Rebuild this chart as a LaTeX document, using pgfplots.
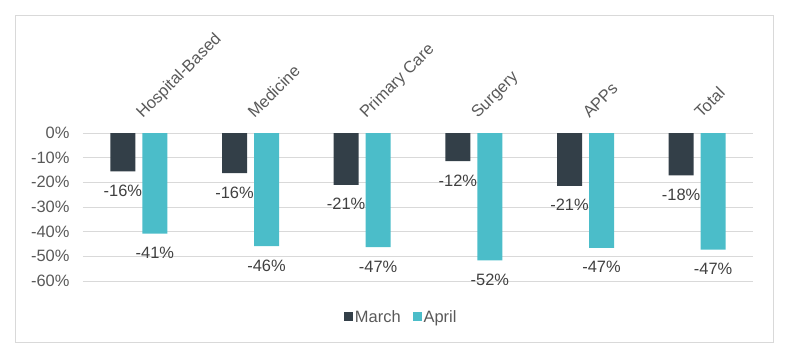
\documentclass[border=0pt]{standalone}
\usepackage{pgfplots}
\pgfplotsset{compat=1.18}
\usepackage{fontspec}
\setmainfont{Liberation Sans}
\definecolor{march}{HTML}{333F48}
\definecolor{april}{HTML}{4BBDC9}
\definecolor{gridc}{HTML}{D9D9D9}
\definecolor{txt}{HTML}{595959}
\definecolor{lbl}{HTML}{404040}
\pgfplotstableread{
x y lab
0 -15.6 -16
1 -16.3 -16
2 -21.0 -21
3 -11.4 -12
4 -21.4 -21
5 -17.2 -18
}\marchdata
\pgfplotstableread{
x y lab
0 -40.8 -41
1 -45.9 -46
2 -46.3 -47
3 -51.6 -52
4 -46.6 -47
5 -47.3 -47
}\aprildata
\newcommand{\chartfont}{\fontsize{16.5}{19}\selectfont}
\tikzset{catlabel/.style={rotate=45, anchor=base west, inner sep=0pt, text=txt, font=\chartfont}}
\begin{document}
\begin{tikzpicture}
\path[use as bounding box] (-83bp,-76bp) rectangle (717bp,281bp);
\draw[gridc, line width=1bp] (-67bp,-61bp) rectangle (690bp,265bp);
\begin{axis}[at={(0,0)}, anchor=south west, scale only axis,
  width=670bp, height=148bp,
  xmin=-0.5, xmax=5.5, ymin=-60, ymax=0,
  clip=false,
  ybar, bar width=25bp,
  ytick={-60,-50,...,0},
  yticklabel={\pgfmathprintnumber{\tick}\%},
  /pgf/number format/assume math mode=true,
  xtick={0,...,5},
  xticklabels={},
  yticklabel style={text=txt, font=\chartfont, xshift=-10bp},
  ymajorgrids, grid style={gridc, line width=1bp},
  axis line style={draw=none},
  major tick length=0pt, tick style={draw=none},
  point meta=explicit,
  nodes near coords={\pgfmathprintnumber[assume math mode=true]{\pgfplotspointmeta}\%},
  every node near coord/.append style={anchor=north, yshift=-10bp, text=lbl, font=\chartfont},
  legend columns=2,
  legend style={at={(0.475,-0.243)}, anchor=center, draw=none, fill=none,
    font=\chartfont, text=txt,
    /tikz/every even column/.append style={column sep=10bp}},
]
\addplot[fill=march, draw=none, bar shift=-16bp,
  legend image code/.code={\fill[march] (0bp,-4.5bp) rectangle (9bp,4.5bp);}]
  table[x=x, y=y, meta=lab] {\marchdata};
\addplot[fill=april, draw=none, bar shift=16bp,
  legend image code/.code={\fill[april] (0bp,-4.5bp) rectangle (9bp,4.5bp);}]
  table[x=x, y=y, meta=lab] {\aprildata};
\legend{March, April}
\node[catlabel] at ([xshift=4bp,yshift=14bp]axis cs:0,0) {Hospital-Based};
\node[catlabel] at ([xshift=4bp,yshift=14bp]axis cs:1,0) {Medicine};
\node[catlabel] at ([xshift=4bp,yshift=14bp]axis cs:2,0) {Primary Care};
\node[catlabel] at ([xshift=4bp,yshift=14bp]axis cs:3,0) {Surgery};
\node[catlabel] at ([xshift=4bp,yshift=14bp]axis cs:4,0) {APPs};
\node[catlabel] at ([xshift=4bp,yshift=14bp]axis cs:5,0) {Total};
\end{axis}
\end{tikzpicture}
\end{document}
